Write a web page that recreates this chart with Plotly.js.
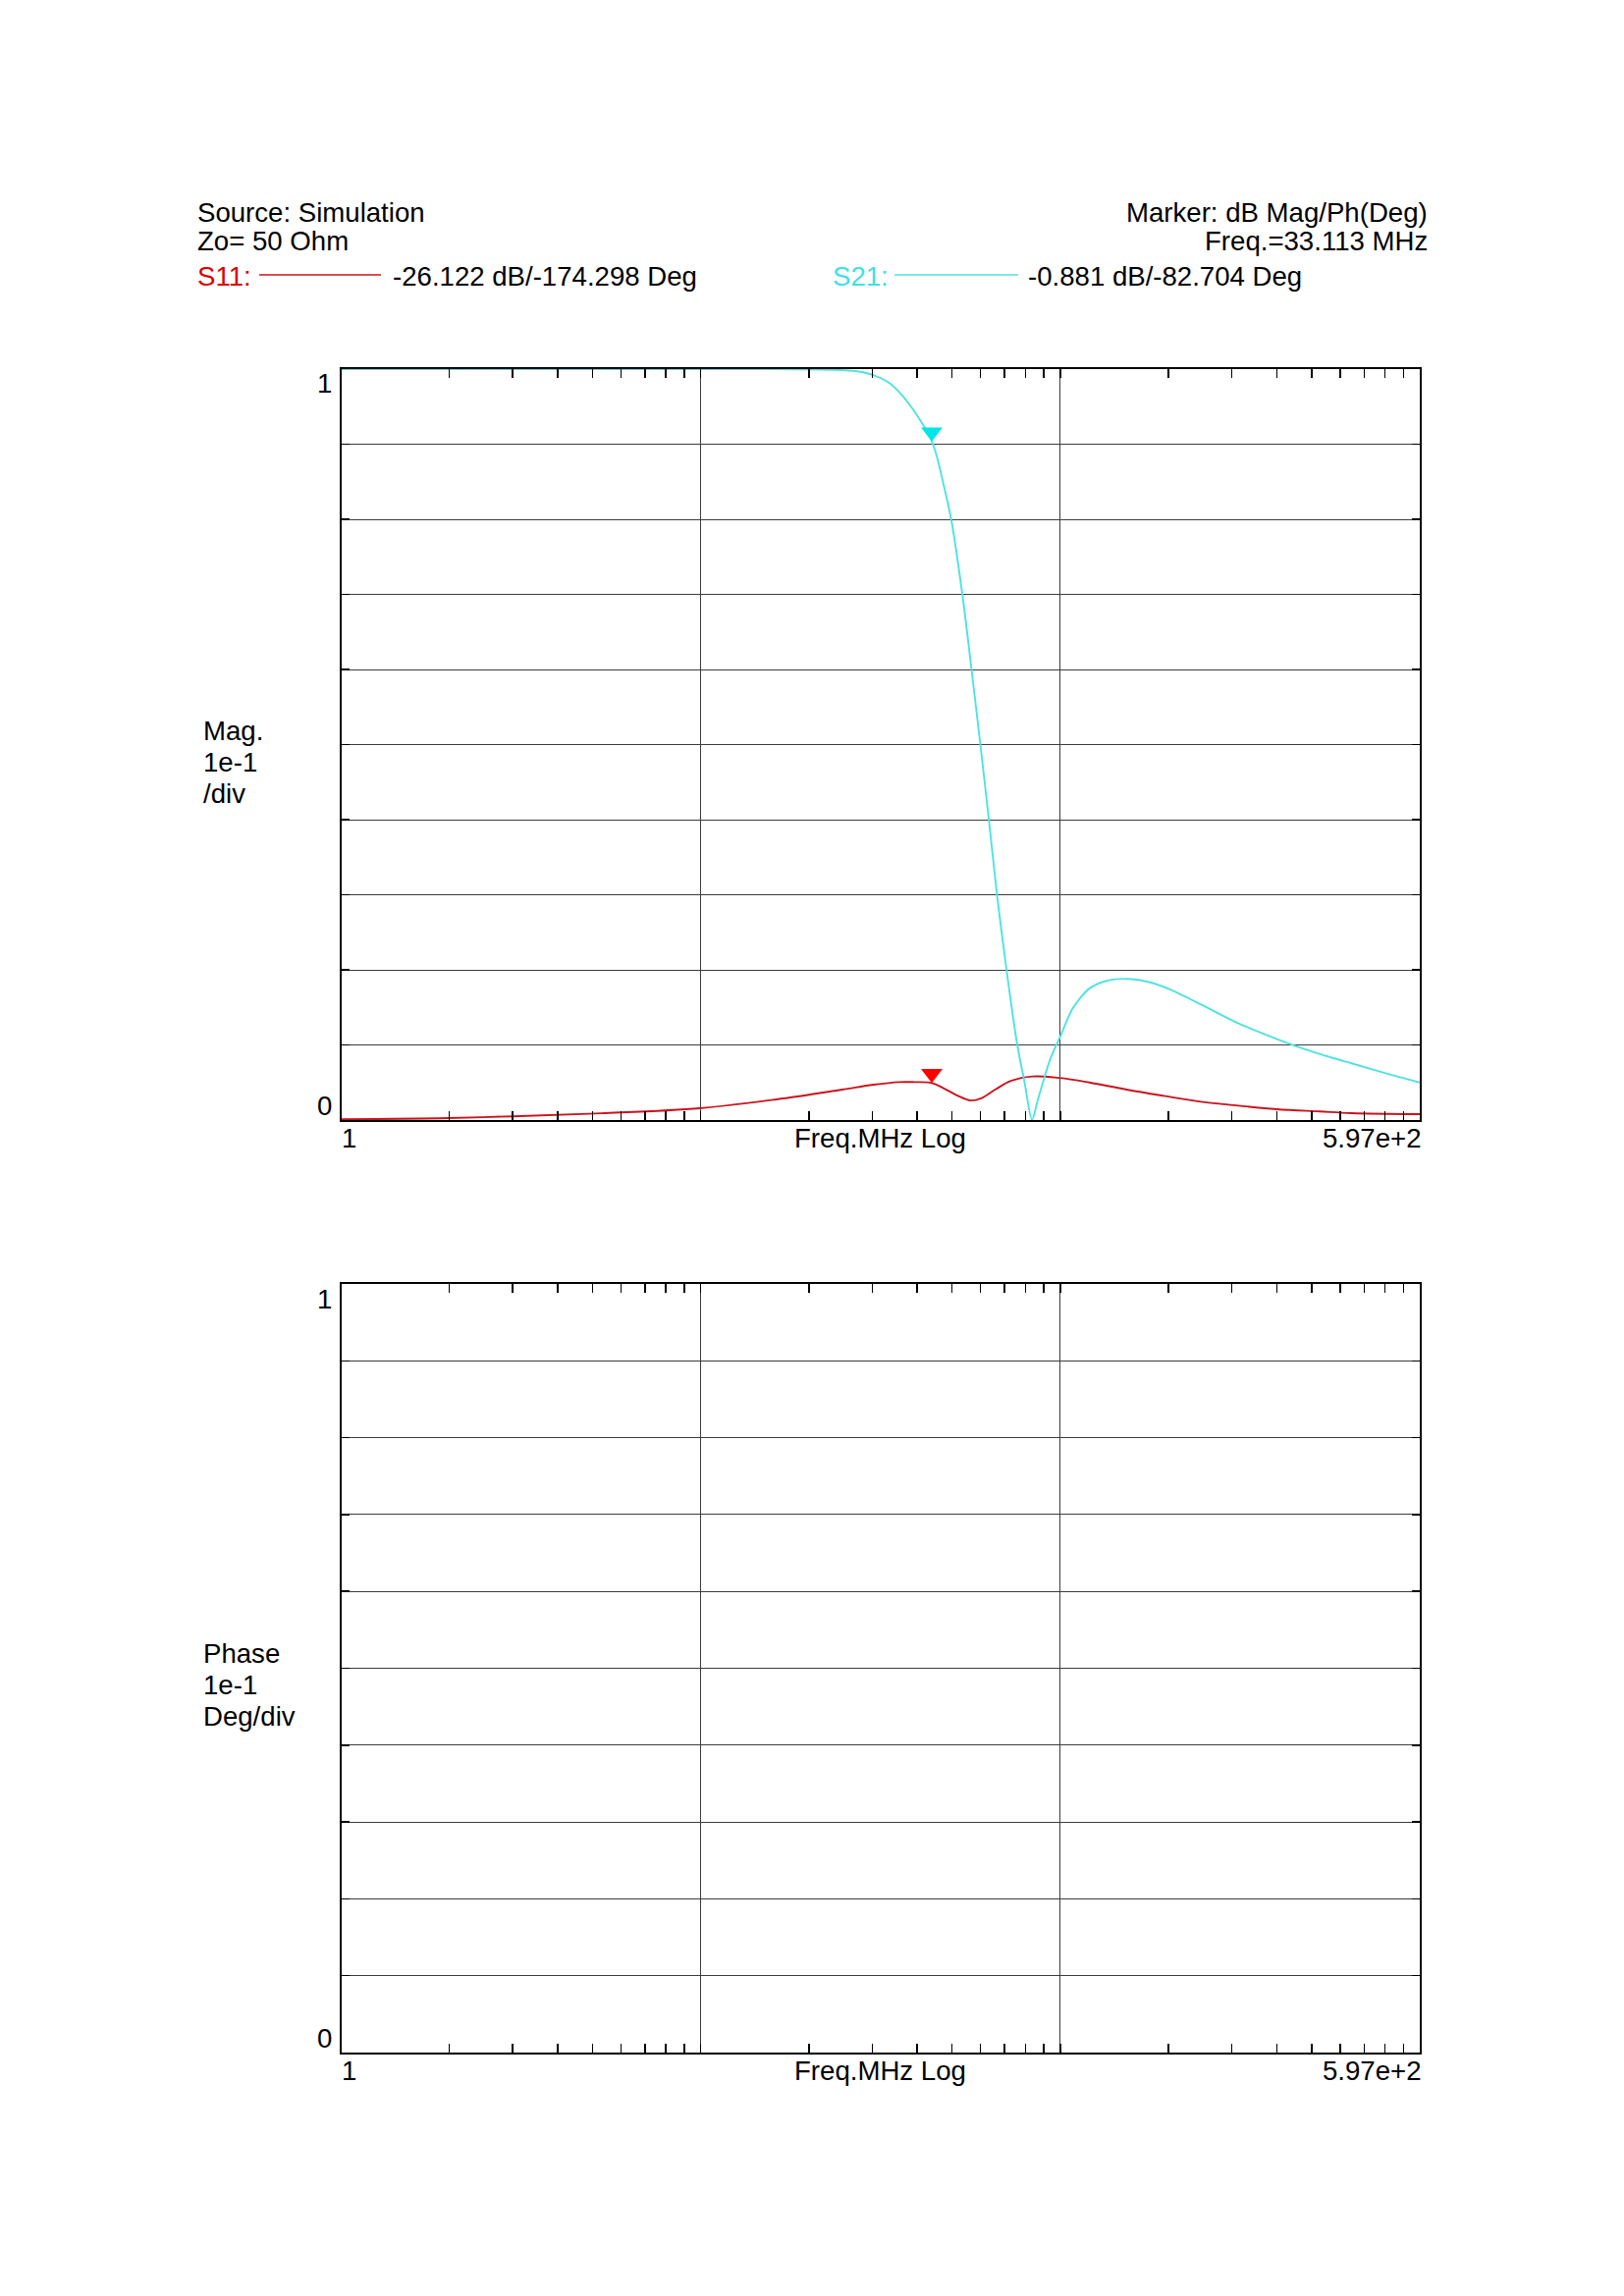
<!DOCTYPE html>
<html><head><meta charset="utf-8">
<script src="https://cdn.plot.ly/plotly-3.0.1.min.js"></script>
<style>html,body{margin:0;padding:0;background:#fff}#chart{width:1654px;height:2339px}</style>
</head><body><div id="chart"></div>
<script>
// ---------- data ----------
const s21Freq = [1.00, 2.43, 5.80, 12.36, 18.57, 21.26, 23.43, 25.82, 27.90, 29.56, 31.33, 33.11, 34.19, 35.19, 37.15, 39.69, 41.91, 44.16, 46.45, 48.74, 51.57, 54.96, 57.35, 59.98, 61.86, 64.30, 66.70, 71.00, 76.40, 84.20, 92.80, 105.2, 119.3, 136.6, 165.9, 201.4, 244.3, 288.3, 360.1, 398.6, 498.2, 597.0];
const s21Mag  = [1.000, 1.000, 1.000, 1.000, 0.999, 0.997, 0.992, 0.981, 0.964, 0.947, 0.927, 0.904, 0.882, 0.855, 0.800, 0.700, 0.600, 0.500, 0.400, 0.300, 0.200, 0.100, 0.051, 0.000, 0.024, 0.054, 0.080, 0.112, 0.149, 0.175, 0.185, 0.188, 0.184, 0.1735, 0.152, 0.130, 0.112, 0.098, 0.082, 0.0755, 0.061, 0.050];
const s11Freq = [1.00, 1.88, 2.77, 4.67, 8.37, 13.18, 19.45, 23.43, 27.25, 29.90, 33.11, 35.60, 38.40, 41.66, 44.40, 48.20, 52.90, 60.10, 70.70, 84.20, 105.0, 130.9, 163.3, 190.0, 255.6, 330.0, 398.6, 597.0];
const s11Mag  = [0.001, 0.0026, 0.005, 0.009, 0.0157, 0.0275, 0.0405, 0.047, 0.0505, 0.0505, 0.0494, 0.042, 0.033, 0.026, 0.029, 0.0405, 0.052, 0.058, 0.056, 0.050, 0.0405, 0.0322, 0.0244, 0.0208, 0.0144, 0.0114, 0.0092, 0.0078];

const markerFreq = 33.113;
const s11MarkerDb = -26.122, s11MarkerDeg = -174.298;
const s21MarkerDb = -0.881,  s21MarkerDeg = -82.704;

const freqStart = 1, freqStop = 597;
const xTickText = ['1', 'Freq.MHz Log', '5.97e+2'];
const yTickText = ['0', '1'];
const magLabel = ['Mag.', '1e-1', '/div'];
const phaseLabel = ['Phase', '1e-1', 'Deg/div'];
const headerLeft = ['Source: Simulation', 'Zo= 50 Ohm'];
const headerRight = ['Marker: dB Mag/Ph(Deg)', 'Freq.=' + markerFreq.toFixed(3) + ' MHz'];
const traceNames = ['S11:', 'S21:'];

// ---------- styling ----------
const W = 1654, H = 2339;
const FONT = 'Liberation Sans, Arial, Helvetica, sans-serif';
const FS = 27.6;
const RED_LINE = '#C8141E', RED_MARK = '#FF0000', RED_TXT = '#D90000';
const CYAN_LINE = '#4FE2E2', CYAN_MARK = '#00E6E6', CYAN_TXT = '#3FE0E6';
const px = x => x / W;
const py = y => 1 - y / H;

const xDom = [px(347.5), px(1446)];
const yDom1 = [py(1141), py(376)];
const yDom2 = [py(2091), py(1308)];

// grid split in three equal log sections, minor ticks follow a log pattern inside each
const L = Math.log10(freqStop / freqStart);
const gridF = [1, 2].map(j => freqStart * Math.pow(10, L * j / 3));
const minorF = [];
for (let j = 0; j < 3; j++) for (let k = 2; k <= 9; k++)
  minorF.push(freqStart * Math.pow(10, L * (j + Math.log10(k)) / 3));
const yGrid = Array.from({length: 11}, (_, i) => i / 10);

function xAxis(anchor) {
  return {
    type: 'log', range: [Math.log10(freqStart), Math.log10(freqStop)], domain: xDom, anchor: anchor,
    showline: true, linecolor: '#000', linewidth: 2, mirror: 'ticks',
    tickmode: 'array', tickvals: gridF, ticks: 'inside', ticklen: 9, tickwidth: 1.5, tickcolor: '#000',
    showticklabels: false, showgrid: true, gridcolor: '#3c3c3c', gridwidth: 1, zeroline: false,
    minor: {tickmode: 'array', tickvals: minorF, ticks: 'inside', ticklen: 9, tickwidth: 1.5, tickcolor: '#000', showgrid: false},
    fixedrange: true
  };
}
function yAxis(anchor, dom) {
  return {
    range: [0, 1], domain: dom, anchor: anchor,
    showline: true, linecolor: '#000', linewidth: 2, mirror: 'ticks',
    tickmode: 'array', tickvals: yGrid, ticks: 'inside', ticklen: 8, tickwidth: 1.5, tickcolor: '#000',
    showticklabels: false, showgrid: true, gridcolor: '#3c3c3c', gridwidth: 1, zeroline: false,
    fixedrange: true
  };
}

const MS = 19;
const traces = [
  {x: s11Freq, y: s11Mag, mode: 'lines', line: {color: RED_LINE, width: 1.9, shape: 'spline', smoothing: 1}, xaxis: 'x', yaxis: 'y', name: 'S11'},
  {x: s21Freq, y: s21Mag, mode: 'lines', line: {color: CYAN_LINE, width: 1.9, shape: 'spline', smoothing: 0.8}, xaxis: 'x', yaxis: 'y', name: 'S21'},
  {x: [markerFreq], y: [Math.pow(10, s11MarkerDb / 20)], mode: 'markers', xaxis: 'x', yaxis: 'y',
   marker: {symbol: 'triangle-up', angle: 180, standoff: MS / 2, size: MS, color: RED_MARK, line: {width: 0}}},
  {x: [markerFreq], y: [Math.pow(10, s21MarkerDb / 20)], mode: 'markers', xaxis: 'x', yaxis: 'y',
   marker: {symbol: 'triangle-up', angle: 180, standoff: MS / 2, size: MS, color: CYAN_MARK, line: {width: 0}}},
  {x: [], y: [], mode: 'lines', xaxis: 'x2', yaxis: 'y2', name: 'phase'}
];

// ---------- annotations ----------
const ann = [];
function txt(text, x, y, xanchor, color, extra) {
  ann.push(Object.assign({text: text, xref: 'paper', yref: 'paper', x: px(x), y: py(y), xanchor: xanchor, yanchor: 'middle',
    showarrow: false, font: {family: FONT, size: FS, color: color || '#000'}}, extra || {}));
}
txt(headerLeft[0], 199, 217, 'left');
txt(headerLeft[1], 199, 246, 'left');
txt(headerRight[0], 1456, 217, 'right');
txt(headerRight[1], 1456, 246, 'right');
txt(traceNames[0], 199, 281, 'left', RED_TXT);
txt(s11MarkerDb.toFixed(3) + ' dB/' + s11MarkerDeg.toFixed(3) + ' Deg', 398, 281, 'left');
txt(traceNames[1], 846, 281, 'left', CYAN_TXT);
txt(s21MarkerDb.toFixed(3) + ' dB/' + s21MarkerDeg.toFixed(3) + ' Deg', 1045, 281, 'left');
magLabel.forEach((t, i) => txt(t, 205, 744 + i * 32, 'left'));
phaseLabel.forEach((t, i) => txt(t, 205, 1684 + i * 32, 'left'));

function axisLabels(xa, ya) {
  const base = {showarrow: false, font: {family: FONT, size: FS, color: '#000'}, yanchor: 'middle'};
  const xr = xa + ' domain', yr = ya + ' domain';
  [[0, 'left', -2], [0.5, 'center', 0], [1, 'right', 4]].forEach((p, i) => {
    ann.push(Object.assign({}, base, {text: xTickText[i], xref: xr, yref: yr, x: p[0], y: 0, xanchor: p[1], yshift: -18, xshift: p[2]}));
  });
  ann.push(Object.assign({}, base, {text: yTickText[1], xref: xr, yref: yr, x: 0, y: 1, xanchor: 'right', xshift: -8, yshift: -15}));
  ann.push(Object.assign({}, base, {text: yTickText[0], xref: xr, yref: yr, x: 0, y: 0, xanchor: 'right', xshift: -8, yshift: 15}));
}
axisLabels('x', 'y');
axisLabels('x2', 'y2');

const shapes = [
  {type: 'line', xref: 'paper', yref: 'paper', x0: px(264), x1: px(388), y0: py(280), y1: py(280), line: {color: RED_LINE, width: 1.5}},
  {type: 'line', xref: 'paper', yref: 'paper', x0: px(911), x1: px(1037), y0: py(280), y1: py(280), line: {color: CYAN_LINE, width: 1.5}}
];

const layout = {
  width: W, height: H, autosize: false,
  margin: {l: 0, r: 0, t: 0, b: 0, pad: 0},
  paper_bgcolor: '#fff', plot_bgcolor: '#fff',
  showlegend: false, hovermode: false,
  font: {family: FONT, size: FS, color: '#000'},
  xaxis: xAxis('y'), yaxis: yAxis('x', yDom1),
  xaxis2: xAxis('y2'), yaxis2: yAxis('x2', yDom2),
  annotations: ann, shapes: shapes
};

Plotly.newPlot('chart', traces, layout, {staticPlot: true, displayModeBar: false});
</script>
</body></html>
